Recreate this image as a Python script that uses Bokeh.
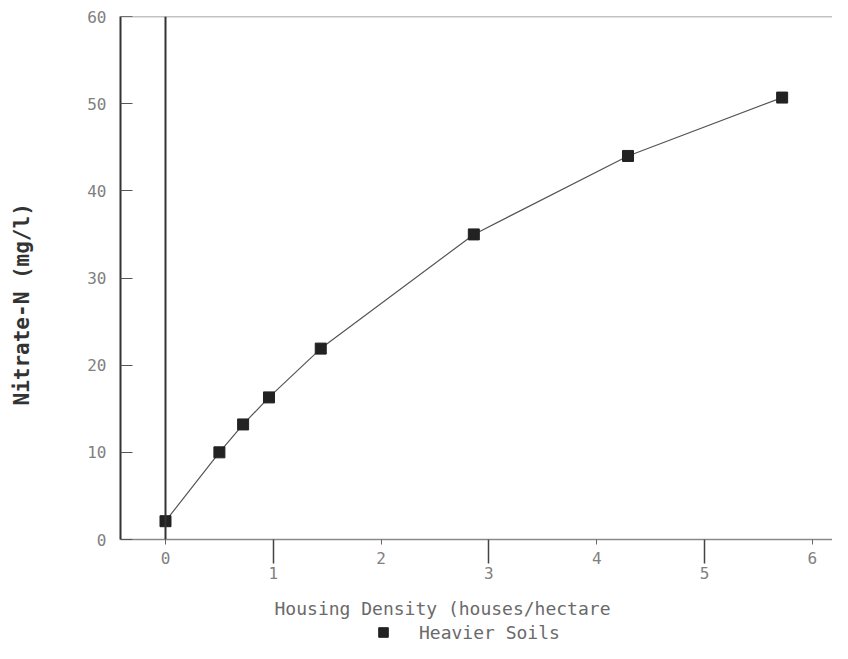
from bokeh.plotting import figure
from bokeh.layouts import column
from bokeh.models import (LinearAxis, FixedTicker, Range1d, Span, Title, Label,
                          Legend, LegendItem)
from bokeh.embed import file_html
from bokeh.resources import INLINE

# Data
housing_density = [0.0, 0.50, 0.72, 0.96, 1.44, 2.86, 4.29, 5.72]
nitrate_n = [2.1, 10.0, 13.2, 16.3, 21.9, 35.0, 44.0, 50.7]
series_name = "Heavier Soils"
x_title = "Housing Density (houses/hectare"
y_title = "Nitrate-N (mg/l)"
y_ticks = [0, 10, 20, 30, 40, 50, 60]
x_ticks_upper = [0, 2, 4, 6]
x_ticks_lower = [1, 3, 5]

MONO = "DejaVu Sans Mono"
MARK = "#222222"

p = figure(width=832, height=587, output_backend="svg", toolbar_location=None,
           x_range=Range1d(-0.4174, 6.187), y_range=Range1d(0, 60),
           min_border_left=120, min_border_right=0, min_border_top=16,
           min_border_bottom=48, x_axis_location=None, y_axis_location=None)
p.xgrid.visible = False
p.ygrid.visible = False
p.outline_line_color = None
p.background_fill_color = "white"

# Left axis
yax = LinearAxis(ticker=FixedTicker(ticks=y_ticks, minor_ticks=[]))
yax.axis_line_color = "#333333"
yax.axis_line_width = 2
yax.major_tick_in = 12
yax.major_tick_out = 0
yax.minor_tick_out = 0
yax.major_tick_line_color = "#555555"
yax.minor_tick_line_color = None
yax.major_label_standoff = 14
yax.major_label_text_font = MONO
yax.major_label_text_font_size = "16px"
yax.major_label_text_color = "#808080"
p.add_layout(yax, "left")

# blank spacer (white ticks on white, no labels) so the rotated title sits near the left edge
spacer = LinearAxis(ticker=FixedTicker(ticks=y_ticks, minor_ticks=[]))
spacer.axis_line_color = None
spacer.major_tick_line_color = "white"
spacer.minor_tick_line_color = None
spacer.major_tick_out = 50
spacer.major_tick_in = 0
spacer.minor_tick_out = 0
spacer.major_label_standoff = 0
spacer.major_label_overrides = {t: "" for t in y_ticks}
p.add_layout(spacer, "left")

p.add_layout(Title(text=y_title, align="left", offset=134, vertical_align="middle",
                   standoff=0, text_font=MONO, text_font_size="21px",
                   text_font_style="bold", text_color="#333333"), "left")

# Bottom axis (labels 0,2,4,6; long ticks at 1,3,5)
xax = LinearAxis(ticker=FixedTicker(ticks=x_ticks_upper, minor_ticks=x_ticks_lower))
xax.axis_line_color = "#8a8a8a"
xax.axis_line_width = 1.5
xax.major_tick_out = 5
xax.major_tick_in = 0
xax.major_tick_line_color = "#666666"
xax.minor_tick_out = 24
xax.minor_tick_in = 0
xax.minor_tick_line_color = "#444444"
xax.minor_tick_line_width = 1.5
xax.major_label_standoff = -12
xax.major_label_text_font = MONO
xax.major_label_text_font_size = "16px"
xax.major_label_text_color = "#808080"
p.add_layout(xax, "below")

# Second row of x labels (1,3,5)
xax2 = LinearAxis(ticker=FixedTicker(ticks=x_ticks_lower, minor_ticks=[]))
xax2.axis_line_color = None
xax2.major_tick_line_color = None
xax2.minor_tick_line_color = None
xax2.major_tick_out = 0
xax2.minor_tick_out = 0
xax2.major_tick_in = 0
xax2.major_label_standoff = 0
xax2.major_label_text_font = MONO
xax2.major_label_text_font_size = "16px"
xax2.major_label_text_color = "#808080"
p.add_layout(xax2, "below")

# Top border and the vertical line at x = 0
p.add_layout(Span(location=60, dimension="width", line_color="#888888", line_width=1.5))
p.add_layout(Span(location=0, dimension="height", line_color="#333333", line_width=2))

# Series
p.line(housing_density, nitrate_n, line_color="#555555", line_width=1.2)
p.scatter(housing_density, nitrate_n, marker="square", size=11,
          fill_color=MARK, line_color=MARK)

# Strip below the chart: x-axis title and legend
foot = figure(width=832, height=56, output_backend="svg", toolbar_location=None,
              x_range=Range1d(0, 1), y_range=Range1d(-1, 0),
              min_border=0, min_border_left=0, min_border_right=0,
              min_border_top=0, min_border_bottom=0,
              x_axis_location=None, y_axis_location=None)
foot.xgrid.visible = False
foot.ygrid.visible = False
foot.outline_line_color = None
foot.add_layout(Label(x=322, y=35, x_units="screen", y_units="screen", text=x_title,
                      text_align="center", text_baseline="middle",
                      text_font=MONO, text_font_size="18px", text_color="#6a6a6a"))
# legend proxy: same series, outside this strip's visible range
key = foot.scatter(housing_density, nitrate_n, marker="square",
                   fill_color=MARK, line_color=MARK)
legend = Legend(items=[LegendItem(label=series_name, renderers=[key])],
                location=(251, -1), orientation="horizontal",
                glyph_width=24, glyph_height=24, label_standoff=24,
                padding=0, margin=0, border_line_color=None,
                background_fill_alpha=0,
                label_text_font=MONO, label_text_font_size="18px",
                label_text_color="#6a6a6a")
foot.add_layout(legend, "center")

page = column(p, foot, spacing=0)
open("out.html", "w").write(file_html(page, INLINE))
